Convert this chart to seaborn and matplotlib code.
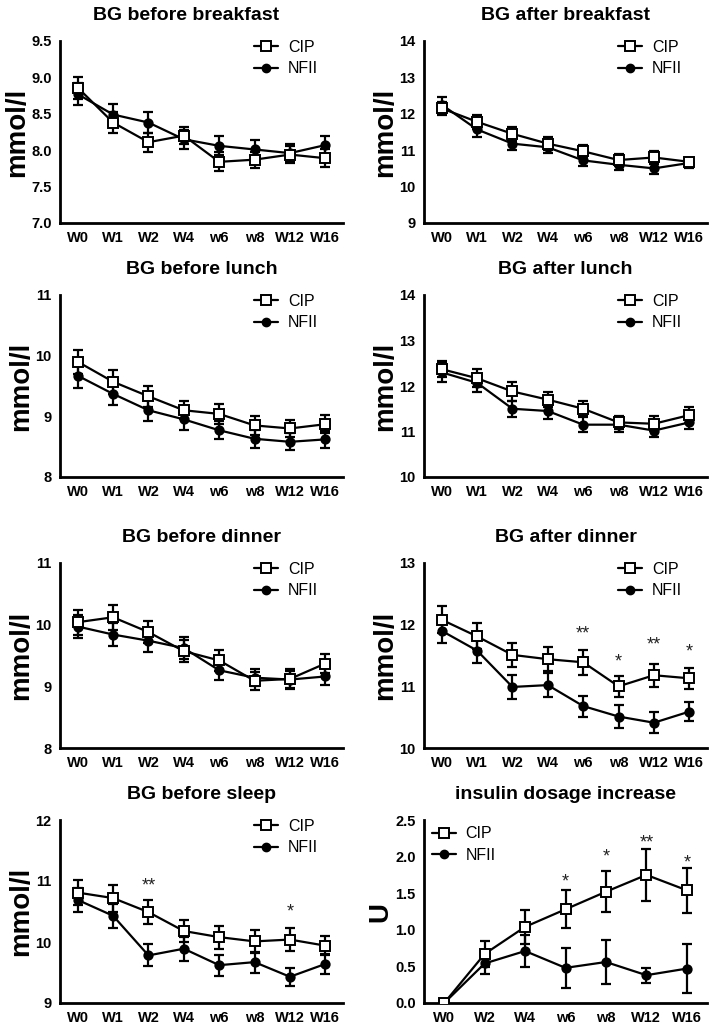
import pandas as pd
import seaborn as sns
import matplotlib.pyplot as plt
from matplotlib.lines import Line2D

weeks = ["W0", "W1", "W2", "W4", "w6", "w8", "W12", "W16"]
weeks_ins = ["W0", "W2", "W4", "w6", "w8", "W12", "W16"]

# BG before breakfast
bb_cip = [8.86, 8.38, 8.11, 8.20, 7.84, 7.87, 7.94, 7.89]
bb_cip_err = [0.15, 0.15, 0.13, 0.12, 0.13, 0.11, 0.12, 0.12]
bb_nfii = [8.77, 8.49, 8.38, 8.15, 8.06, 8.01, 7.96, 8.07]
bb_nfii_err = [0.15, 0.14, 0.14, 0.13, 0.13, 0.13, 0.12, 0.13]

# BG after breakfast
ab_cip = [12.15, 11.78, 11.45, 11.18, 10.97, 10.73, 10.80, 10.68]
ab_cip_err = [0.17, 0.2, 0.2, 0.17, 0.17, 0.16, 0.17, 0.1]
ab_nfii = [12.25, 11.57, 11.18, 11.08, 10.72, 10.60, 10.50, 10.65]
ab_nfii_err = [0.22, 0.2, 0.18, 0.16, 0.15, 0.15, 0.15, 0.13]

# BG before lunch
bl_cip = [9.90, 9.57, 9.33, 9.10, 9.04, 8.85, 8.80, 8.87]
bl_cip_err = [0.2, 0.2, 0.17, 0.15, 0.16, 0.15, 0.14, 0.15]
bl_nfii = [9.67, 9.37, 9.10, 8.95, 8.77, 8.63, 8.58, 8.62]
bl_nfii_err = [0.2, 0.18, 0.17, 0.17, 0.15, 0.15, 0.14, 0.14]

# BG after lunch
al_cip = [12.37, 12.17, 11.88, 11.70, 11.50, 11.20, 11.17, 11.36]
al_cip_err = [0.18, 0.2, 0.2, 0.17, 0.17, 0.14, 0.16, 0.17]
al_nfii = [12.30, 12.07, 11.50, 11.45, 11.15, 11.15, 11.02, 11.20]
al_nfii_err = [0.22, 0.2, 0.18, 0.18, 0.17, 0.15, 0.15, 0.15]

# BG before dinner
bd_cip = [10.04, 10.12, 9.88, 9.57, 9.42, 9.09, 9.12, 9.37]
bd_cip_err = [0.2, 0.2, 0.18, 0.18, 0.17, 0.15, 0.16, 0.16]
bd_nfii = [9.97, 9.84, 9.74, 9.62, 9.26, 9.14, 9.11, 9.16]
bd_nfii_err = [0.18, 0.18, 0.18, 0.18, 0.15, 0.14, 0.14, 0.14]

# BG after dinner
ad_cip = [12.08, 11.81, 11.51, 11.44, 11.39, 11.00, 11.18, 11.13]
ad_cip_err = [0.22, 0.21, 0.2, 0.19, 0.2, 0.17, 0.19, 0.17]
ad_nfii = [11.90, 11.58, 10.99, 11.02, 10.68, 10.51, 10.41, 10.59]
ad_nfii_err = [0.2, 0.2, 0.2, 0.19, 0.17, 0.18, 0.17, 0.16]
ad_stars = {"w6": ("**", 11.85), "w8": ("*", 11.40), "W12": ("**", 11.67), "W16": ("*", 11.55)}

# BG before sleep
bs_cip = [10.81, 10.72, 10.49, 10.18, 10.08, 10.01, 10.04, 9.94]
bs_cip_err = [0.21, 0.22, 0.2, 0.18, 0.19, 0.19, 0.19, 0.16]
bs_nfii = [10.69, 10.43, 9.78, 9.89, 9.62, 9.67, 9.43, 9.64]
bs_nfii_err = [0.2, 0.2, 0.18, 0.2, 0.17, 0.17, 0.15, 0.16]
bs_stars = {"W2": ("**", 10.92), "W12": ("*", 10.50)}

# insulin dosage increase
ins_cip = [0.0, 0.67, 1.04, 1.28, 1.52, 1.75, 1.54]
ins_cip_err = [0.0, 0.18, 0.23, 0.26, 0.28, 0.36, 0.31]
ins_nfii = [0.0, 0.54, 0.71, 0.48, 0.56, 0.38, 0.47]
ins_nfii_err = [0.0, 0.15, 0.22, 0.27, 0.30, 0.10, 0.34]
ins_stars = {"w6": ("*", 1.66), "w8": ("*", 1.99), "W12": ("**", 2.19), "W16": ("*", 1.91)}


def draw_panel(fig, rect, title, xcats, cip, cip_err, nfii, nfii_err,
               ylim, yticks, yfmt, ylabel, stars=None, legend_right=True, title_x=0.5):
    ax = fig.add_axes(rect)
    df = pd.DataFrame({
        "week": xcats * 2,
        "value": cip + nfii,
        "err": cip_err + nfii_err,
        "group": ["CIP"] * len(xcats) + ["NFII"] * len(xcats),
    })
    pos = {w: i for i, w in enumerate(xcats)}
    df["x"] = df["week"].map(pos)

    styles = {
        "CIP": dict(marker="s", markerfacecolor="white", markersize=6.5),
        "NFII": dict(marker="o", markerfacecolor="black", markersize=6),
    }
    for grp in ["NFII", "CIP"]:
        sub = df[df["group"] == grp]
        ax.errorbar(sub["x"], sub["value"], yerr=sub["err"], fmt="none",
                    ecolor="black", elinewidth=1.6, capsize=3.8, capthick=1.6, zorder=2)
        sns.lineplot(data=sub, x="x", y="value", ax=ax, color="black", linewidth=1.6,
                     markeredgecolor="black", markeredgewidth=1.4, zorder=3,
                     **styles[grp])

    if stars:
        for w, (s, y) in stars.items():
            ax.text(pos[w], y, s, ha="center", va="center", fontsize=13, color="#222222")

    ax.set_xlim(-0.5, len(xcats) - 0.5)
    ax.set_xticks(range(len(xcats)))
    ax.set_xticklabels(xcats)
    ax.set_ylim(*ylim)
    ax.set_yticks(yticks)
    ax.set_yticklabels([yfmt.format(t) for t in yticks])
    ax.set_xlabel("")
    ax.set_ylabel(ylabel, fontsize=20, fontweight="bold", labelpad=1)
    ax.set_title(title, fontsize=14, fontweight="bold", pad=15, x=title_x)

    for side in ["top", "right"]:
        ax.spines[side].set_visible(False)
    for side in ["left", "bottom"]:
        ax.spines[side].set_linewidth(2)
        ax.spines[side].set_color("black")
    ax.tick_params(axis="both", direction="out", length=4, width=1.8, color="black",
                   labelcolor="black", labelsize=10.5, pad=2)
    for lbl in ax.get_xticklabels() + ax.get_yticklabels():
        lbl.set_fontweight("bold")
    ax.grid(False)

    handles = [
        Line2D([], [], color="black", lw=1.6, marker="s", markerfacecolor="white",
               markeredgecolor="black", markersize=6.5, markeredgewidth=1.4),
        Line2D([], [], color="black", lw=1.6, marker="o", markerfacecolor="black",
               markersize=6),
    ]
    if legend_right:
        loc, anchor = "upper right", (0.94, 1.05)
    else:
        loc, anchor = "upper left", (0.0, 1.01)
    ax.legend(handles, ["CIP", "NFII"], loc=loc, bbox_to_anchor=anchor, frameon=False,
              fontsize=11.5, handlelength=1.5, handletextpad=0.6, labelspacing=0.4,
              borderaxespad=0.1)
    return ax


def main():
    sns.set_style("white")
    plt.rcParams["font.family"] = ["Liberation Sans", "DejaVu Sans"]
    plt.rcParams["text.color"] = "black"
    plt.rcParams["axes.labelcolor"] = "black"

    W, H = 714, 1027
    fig = plt.figure(figsize=(W / 100, H / 100), dpi=100)

    def rect(left, top, width=283, height=182):
        return [left / W, 1 - (top + height) / H, width / W, height / H]

    draw_panel(fig, rect(60, 41), "BG before breakfast", weeks, bb_cip, bb_cip_err,
               bb_nfii, bb_nfii_err, (7.0, 9.5), [7.0, 7.5, 8.0, 8.5, 9.0, 9.5],
               "{:.1f}", "mmol/l", title_x=0.445)
    draw_panel(fig, rect(424, 41), "BG after breakfast", weeks, ab_cip, ab_cip_err,
               ab_nfii, ab_nfii_err, (9, 14), [9, 10, 11, 12, 13, 14], "{:.0f}", "mmol/l")
    draw_panel(fig, rect(60, 295), "BG before lunch", weeks, bl_cip, bl_cip_err,
               bl_nfii, bl_nfii_err, (8, 11), [8, 9, 10, 11], "{:.0f}", "mmol/l")
    draw_panel(fig, rect(424, 295), "BG after lunch", weeks, al_cip, al_cip_err,
               al_nfii, al_nfii_err, (10, 14), [10, 11, 12, 13, 14], "{:.0f}", "mmol/l")
    draw_panel(fig, rect(60, 563, height=185), "BG before dinner", weeks, bd_cip, bd_cip_err,
               bd_nfii, bd_nfii_err, (8, 11), [8, 9, 10, 11], "{:.0f}", "mmol/l")
    draw_panel(fig, rect(424, 563, height=185), "BG after dinner", weeks, ad_cip, ad_cip_err,
               ad_nfii, ad_nfii_err, (10, 13), [10, 11, 12, 13], "{:.0f}", "mmol/l",
               stars=ad_stars)
    draw_panel(fig, rect(60, 820, height=183), "BG before sleep", weeks, bs_cip, bs_cip_err,
               bs_nfii, bs_nfii_err, (9, 12), [9, 10, 11, 12], "{:.0f}", "mmol/l",
               stars=bs_stars)
    draw_panel(fig, rect(424, 820, height=183), "insulin dosage increase", weeks_ins,
               ins_cip, ins_cip_err, ins_nfii, ins_nfii_err, (0, 2.5),
               [0.0, 0.5, 1.0, 1.5, 2.0, 2.5], "{:.1f}", "U", stars=ins_stars,
               legend_right=False)

    fig.savefig("out.png", dpi=100)


if __name__ == "__main__":
    main()
